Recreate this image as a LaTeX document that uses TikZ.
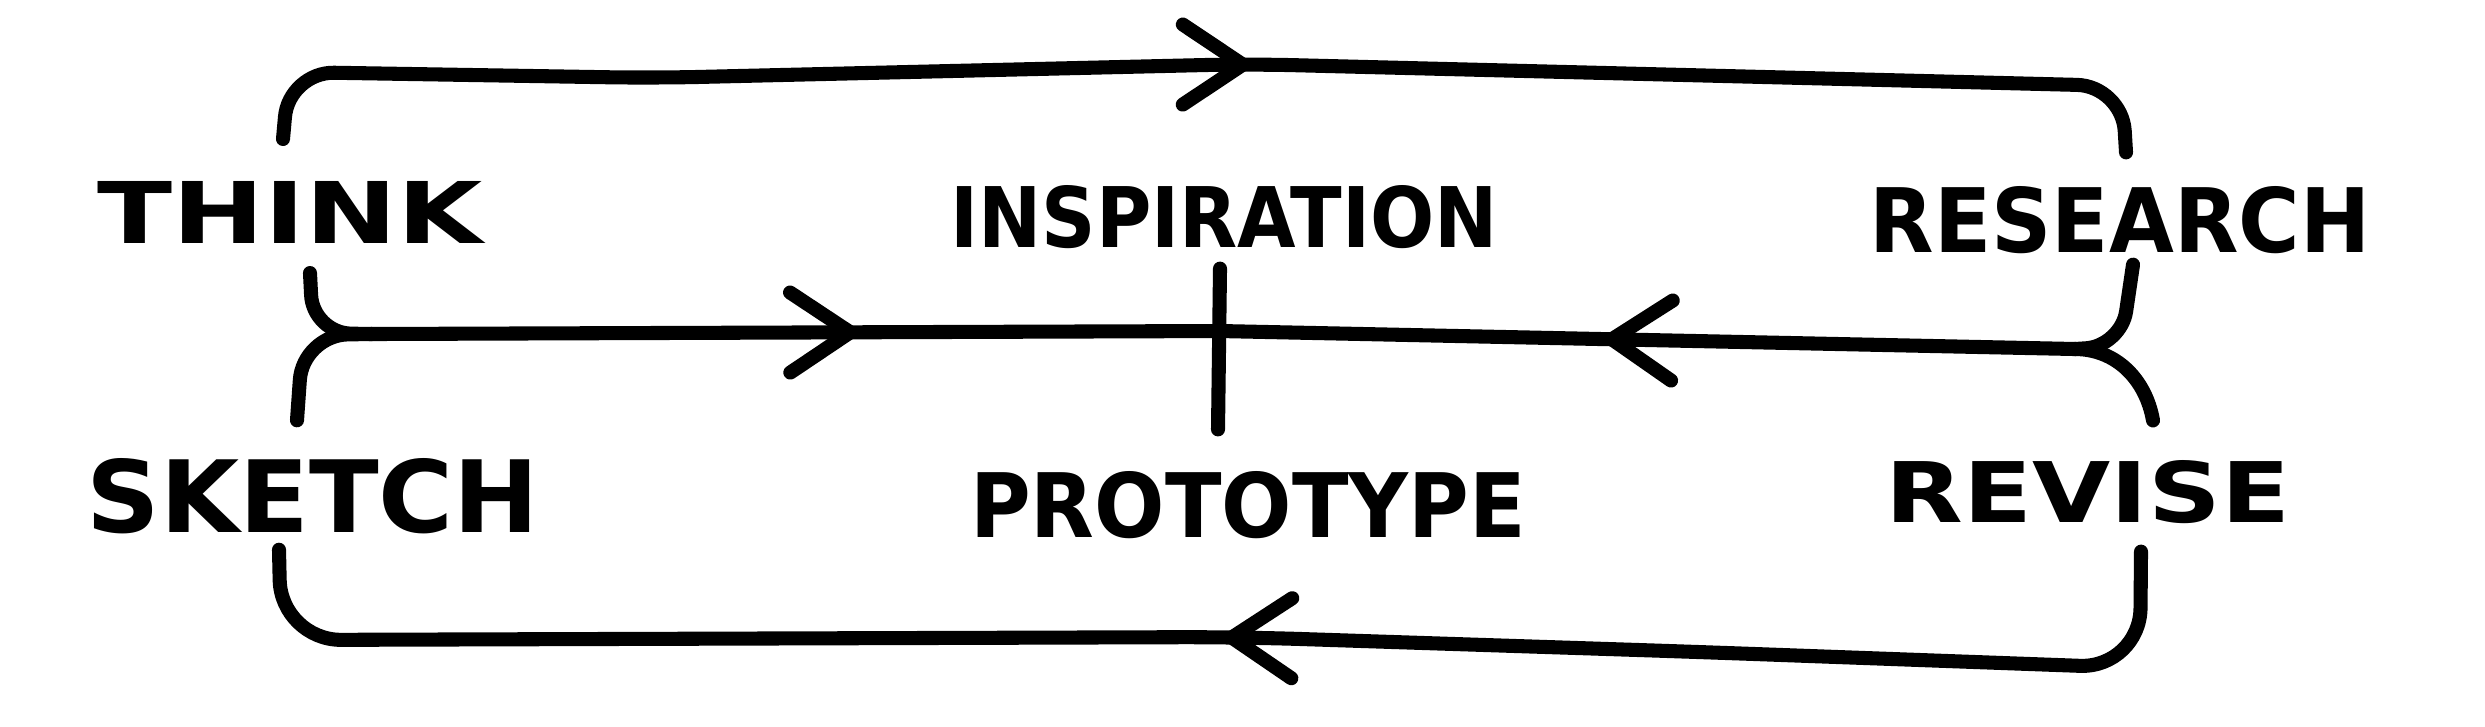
\documentclass[tikz,border=0pt]{standalone}
\usepackage{fontspec}
\setmainfont{DejaVu Sans}
\usetikzlibrary{calc,arrows.meta,decorations.markings}

% hand-lettered words are boxed to the size they have in the sketch
\newcommand{\handword}[3]{\resizebox{#1cm}{#2cm}{\bfseries #3}}

\tikzset{
  word/.style={inner sep=0pt, outer sep=0pt},
  pen/.style={line width=4pt, line cap=round, line join=round, rounded corners=0.45cm},
  chev/.tip={Straight Barb[length=0.6cm, width=0.8cm, round]},
  arrowat/.style={postaction={decorate},
    decoration={markings, mark=at position #1 with {\arrow{chev}}}},
}

\begin{document}
\begin{tikzpicture}[x=0.01cm,y=-0.01cm]
\useasboundingbox (0,0) rectangle (2485,726);

% words
\node[word] (think)       at (290,212)  {\handword{3.85}{0.62}{THINK}};
\node[word] (inspiration) at (1224,217) {\handword{5.47}{0.62}{INSPIRATION}};
\node[word] (research)    at (2120,220) {\handword{5.00}{0.66}{RESEARCH}};
\node[word] (sketch)      at (313,496)  {\handword{4.52}{0.74}{SKETCH}};
\node[word] (prototype)   at (1248,505) {\handword{5.55}{0.66}{PROTOTYPE}};
\node[word] (revise)      at (2088,492) {\handword{4.04}{0.62}{REVISE}};

% where the strands meet
\coordinate (ljoin) at (372,334);
\coordinate (rjoin) at (2075,349);
\coordinate (hub)   at (1220,331);

% outer loops
\draw[pen, arrowat=10.1cm] ($(think.north)+(-7,-42)$) -- (289,72) -- (654,78)
  -- (1248,64) -- (2122,86) -- ($(research.north)+(6,-34)$);
\draw[pen, rounded corners=0.6cm, arrowat=10.05cm] ($(revise.south)+(53,28)$) -- (2140,668)
  -- (1700,652) -- (1240,637) -- (281,640) -- ($(sketch.south)+(-34,16)$);

% middle strands
\draw[pen, rounded corners=0.38cm] ($(think.south)+(20,30)$) -- (313,333) -- (ljoin);
\draw[pen, rounded corners=0.45cm] ($(sketch.north)+(-16,-38)$) -- (303,335) -- (ljoin);
\draw[pen, arrowat=4.85cm] (ljoin) -- (hub);
\draw[pen, rounded corners=0.35cm] ($(research.south)+(13,11)$) -- (2121,346) -- (rjoin);
\draw[pen] ($(revise.north)+(65,-40)$) to[out=100,in=0] (rjoin);
\draw[pen, arrowat=4.7cm] (rjoin) -- (hub);
\draw[pen] ($(inspiration.south)+(-4,20)$) -- ($(prototype.north)+(-30,-42)$);
\end{tikzpicture}
\end{document}
